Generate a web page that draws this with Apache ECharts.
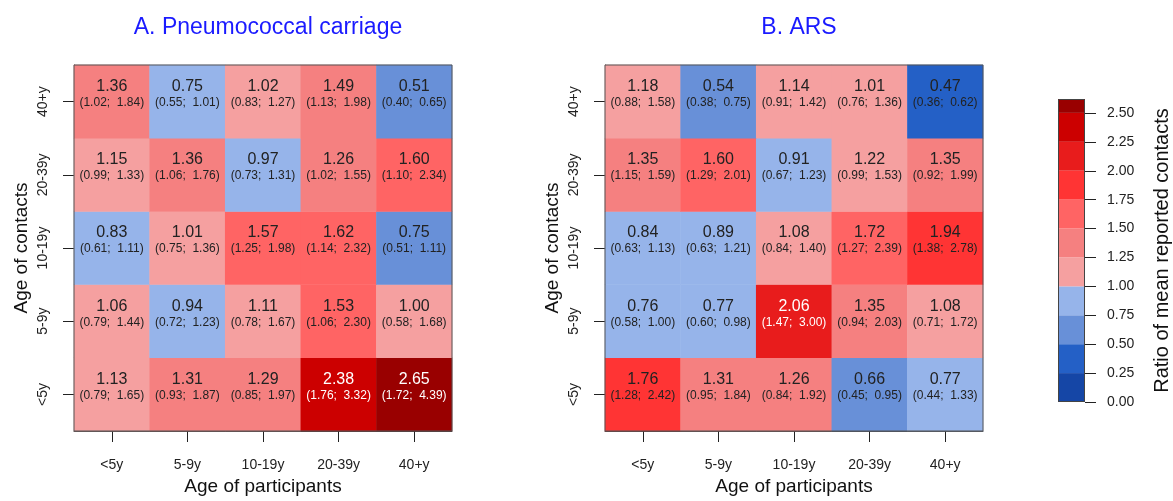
<!DOCTYPE html>
<html><head><meta charset="utf-8">
<script src="https://cdn.jsdelivr.net/npm/echarts@6/dist/echarts.min.js"></script>
<style>html,body{margin:0;padding:0;background:#fff}#c{width:1173px;height:501px}</style>
</head><body><div id="c"></div>
<script>
// Age groups (participants on x, contacts on y)
const ages = ['<5y', '5-9y', '10-19y', '20-39y', '40+y'];

// Rows: age of contacts (<5y ... 40+y); columns: age of participants (<5y ... 40+y)
const carriageRatio = [
  [1.13, 1.31, 1.29, 2.38, 2.65],
  [1.06, 0.94, 1.11, 1.53, 1.004],
  [0.83, 1.01, 1.57, 1.62, 0.749],
  [1.15, 1.36, 0.97, 1.26, 1.60],
  [1.36, 0.751, 1.02, 1.49, 0.51]
];
const carriageLow = [
  [0.79, 0.93, 0.85, 1.76, 1.72],
  [0.79, 0.72, 0.78, 1.06, 0.58],
  [0.61, 0.75, 1.25, 1.14, 0.51],
  [0.99, 1.06, 0.73, 1.02, 1.10],
  [1.02, 0.55, 0.83, 1.13, 0.40]
];
const carriageHigh = [
  [1.65, 1.87, 1.97, 3.32, 4.39],
  [1.44, 1.23, 1.67, 2.30, 1.68],
  [1.11, 1.36, 1.98, 2.32, 1.11],
  [1.33, 1.76, 1.31, 1.55, 2.34],
  [1.84, 1.01, 1.27, 1.98, 0.65]
];
const arsRatio = [
  [1.76, 1.31, 1.26, 0.66, 0.77],
  [0.76, 0.77, 2.06, 1.35, 1.08],
  [0.84, 0.89, 1.08, 1.72, 1.94],
  [1.35, 1.60, 0.91, 1.22, 1.35],
  [1.18, 0.54, 1.14, 1.01, 0.47]
];
const arsLow = [
  [1.28, 0.95, 0.84, 0.45, 0.44],
  [0.58, 0.60, 1.47, 0.94, 0.71],
  [0.63, 0.63, 0.84, 1.27, 1.38],
  [1.15, 1.29, 0.67, 0.99, 0.92],
  [0.88, 0.38, 0.91, 0.76, 0.36]
];
const arsHigh = [
  [2.42, 1.84, 1.92, 0.95, 1.33],
  [1.00, 0.98, 3.00, 2.03, 1.72],
  [1.13, 1.21, 1.40, 2.39, 2.78],
  [1.59, 2.01, 1.23, 1.53, 1.99],
  [1.58, 0.75, 1.42, 1.36, 0.62]
];

// Colour scale
const legendBreaks = [0, 0.25, 0.5, 0.75, 1.0, 1.25, 1.5, 1.75, 2.0, 2.25, 2.5, 2.62];
const legendColors = ['#1546a6', '#2460c6', '#6890d8', '#96b4ea', '#f5a0a0', '#f58080',
                      '#ff6464', '#ff3434', '#e81c1c', '#cc0000', '#990000'];
const legendTickMax = 2.5;
const legendTickStep = 0.25;

const panelTitles = ['A. Pneumococcal carriage', 'B. ARS'];
const xName = 'Age of participants';
const yName = 'Age of contacts';
const legendName = 'Ratio of mean reported contacts';

const FONT = "'Liberation Sans', Arial, Helvetica, sans-serif";

function buildData(ratio, low, high) {
  const out = [];
  for (let r = 0; r < ratio.length; r++)
    for (let c = 0; c < ratio[r].length; c++)
      out.push([c, r, ratio[r][c], low[r][c], high[r][c]]);
  return out;
}

const pieces = [];
for (let i = 0; i < legendColors.length; i++) {
  const p = { gte: legendBreaks[i], color: legendColors[i] };
  if (i < legendColors.length - 1) p.lt = legendBreaks[i + 1];
  pieces.push(p);
}

function cellLabel(p) {
  const v = p.value[2], lo = p.value[3], hi = p.value[4];
  const w = v > 2 ? 'w' : '';
  return '{v' + w + '|' + v.toFixed(2) + '}\n{c' + w + '|(' + lo.toFixed(2) + ';  ' + hi.toFixed(2) + ')}';
}
const rich = {
  v: { fontSize: 16, lineHeight: 18, color: '#222', fontFamily: FONT },
  c: { fontSize: 12, lineHeight: 14, color: '#222', fontFamily: FONT },
  vw: { fontSize: 16, lineHeight: 18, color: '#fff', fontFamily: FONT },
  cw: { fontSize: 12, lineHeight: 14, color: '#fff', fontFamily: FONT }
};

const gridW = 378, gridH = 370, gridTop = 65;
const gridLefts = [74, 605];

const grids = gridLefts.map(l => ({
  left: l, top: gridTop, width: gridW, height: gridH,
  show: true, borderColor: '#555', borderWidth: 1, z: 5, backgroundColor: 'transparent'
}));
// legend bar grid and legend tick grid
const barTop = 99, barBottom = 402;
const tickTop = 113;
grids.push({ left: 1058, width: 27, top: barTop, height: barBottom - barTop });
grids.push({ left: 1058, width: 27, top: tickTop, height: barBottom - tickTop });

const xAxes = gridLefts.map((l, i) => ({
  type: 'category', gridIndex: i, data: ages,
  axisLine: { show: true, lineStyle: { color: '#444', width: 1 } },
  axisTick: { show: true, alignWithLabel: true, length: 11, lineStyle: { color: '#222' } },
  axisLabel: { show: true, margin: 27, fontSize: 14, color: '#222', fontFamily: FONT },
  name: xName, nameLocation: 'middle', nameGap: 46,
  nameTextStyle: { fontSize: 19, color: '#111', fontFamily: FONT }
}));
xAxes.push({ type: 'category', gridIndex: 2, data: ['s'], show: false });
xAxes.push({ type: 'category', gridIndex: 3, data: ['s'], show: false });

const yAxes = gridLefts.map((l, i) => ({
  type: 'category', gridIndex: i, data: ages,
  axisLine: { show: true, lineStyle: { color: '#444', width: 1 } },
  axisTick: { show: true, alignWithLabel: true, length: 11, lineStyle: { color: '#222' } },
  axisLabel: { show: true, margin: 24, rotate: 90, fontSize: 14, color: '#222', fontFamily: FONT },
  name: yName, nameLocation: 'middle', nameGap: 43,
  nameTextStyle: { fontSize: 19, color: '#111', fontFamily: FONT }
}));
yAxes.push({
  type: 'value', gridIndex: 2, min: 0, max: legendBreaks[legendBreaks.length - 1],
  position: 'right',
  axisLine: { show: false }, axisTick: { show: false }, axisLabel: { show: false }, splitLine: { show: false },
  name: legendName, nameLocation: 'middle', nameRotate: 90, nameGap: 67,
  nameTextStyle: { fontSize: 20, color: '#111', fontFamily: FONT }
});
yAxes.push({
  type: 'value', gridIndex: 3, min: 0, max: legendTickMax, interval: legendTickStep,
  position: 'right',
  axisLine: { show: false },
  axisTick: { show: true, length: 11, lineStyle: { color: '#222' } },
  axisLabel: { margin: 22, fontSize: 14, color: '#222', fontFamily: FONT, formatter: v => v.toFixed(2) },
  splitLine: { show: false }
});

const series = [
  {
    type: 'heatmap', xAxisIndex: 0, yAxisIndex: 0,
    data: buildData(carriageRatio, carriageLow, carriageHigh),
    label: { show: true, formatter: cellLabel, rich: rich, offset: [0, -8] },
    itemStyle: { borderWidth: 0 }, emphasis: { disabled: true }
  },
  {
    type: 'heatmap', xAxisIndex: 1, yAxisIndex: 1,
    data: buildData(arsRatio, arsLow, arsHigh),
    label: { show: true, formatter: cellLabel, rich: rich, offset: [0, -8] },
    itemStyle: { borderWidth: 0 }, emphasis: { disabled: true }
  }
];
for (let i = 0; i < legendColors.length; i++) {
  series.push({
    type: 'bar', xAxisIndex: 2, yAxisIndex: 2, stack: 'legend', barWidth: '100%',
    data: [+(legendBreaks[i + 1] - legendBreaks[i]).toFixed(4)],
    itemStyle: { color: legendColors[i] }, silent: true
  });
}
series.push({
  type: 'bar', xAxisIndex: 2, yAxisIndex: 2, barWidth: '100%', barGap: '-100%', z: 5,
  data: [legendBreaks[legendBreaks.length - 1]],
  itemStyle: { color: 'rgba(0,0,0,0)', borderColor: '#444', borderWidth: 1 }, silent: true
});

const chart = echarts.init(document.getElementById('c'), null, { renderer: 'canvas' });
chart.setOption({
  animation: false,
  backgroundColor: '#fff',
  textStyle: { fontFamily: FONT },
  title: panelTitles.map((t, i) => ({
    text: t, left: gridLefts[i] + gridW / 2, top: 11, textAlign: 'center',
    textStyle: { fontSize: 23, fontWeight: 'normal', color: '#1a1aff', fontFamily: FONT }
  })),
  visualMap: { type: 'piecewise', show: false, seriesIndex: [0, 1], dimension: 2, pieces: pieces },
  grid: grids,
  xAxis: xAxes,
  yAxis: yAxes,
  series: series
});
</script>
</body></html>
